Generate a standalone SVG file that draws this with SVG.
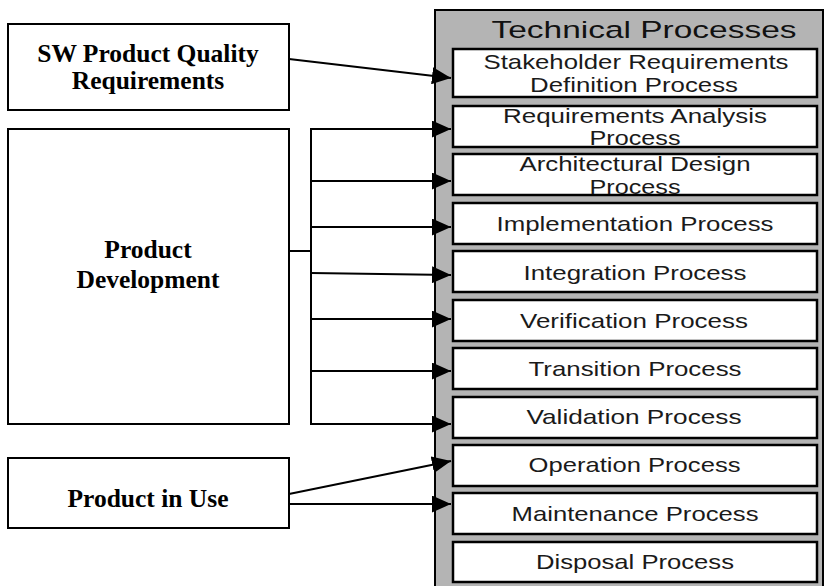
<svg xmlns="http://www.w3.org/2000/svg" width="824" height="586" viewBox="0 0 824 586">
<style>
.lbox{fill:#fff;stroke:#000;stroke-width:2}
.pbox{fill:#fff;stroke:#000;stroke-width:2.5}
.ltxt{font-family:"Liberation Serif","Times New Roman",serif;font-weight:bold;font-size:25.5px;fill:#000;text-anchor:middle}
.ptxt{font-family:"Liberation Sans",Arial,sans-serif;font-size:21px;fill:#1a1a1a;text-anchor:middle}
.ttxt{font-family:"Liberation Sans",Arial,sans-serif;font-size:24.5px;fill:#111;text-anchor:middle}
.conn{fill:none;stroke:#000;stroke-width:2}
</style>
<defs>
<marker id="arr" markerUnits="userSpaceOnUse" markerWidth="19" markerHeight="17" refX="19" refY="8.5" orient="auto">
<path d="M0,0 L19,8.5 L0,17 z" fill="#000"/>
</marker>
</defs>
<rect width="824" height="586" fill="#fff"/>
<g id="technical-processes">
<rect x="435" y="10" width="388" height="590" fill="#b4b4b4" stroke="#000" stroke-width="2"/>
<text class="ttxt" x="644" y="37.5" textLength="305" lengthAdjust="spacingAndGlyphs">Technical Processes</text>
</g>
<g id="stakeholder">
<rect class="pbox" x="453" y="49" width="364" height="48"/>
<text class="ptxt" x="636" y="68.5" textLength="305" lengthAdjust="spacingAndGlyphs">Stakeholder Requirements</text>
<text class="ptxt" x="634" y="91.5" textLength="208" lengthAdjust="spacingAndGlyphs">Definition Process</text>
</g>
<g id="req-analysis">
<rect class="pbox" x="453" y="106" width="364" height="41"/>
<text class="ptxt" x="635" y="123" textLength="264" lengthAdjust="spacingAndGlyphs">Requirements Analysis</text>
<text class="ptxt" x="635" y="144.5" textLength="91" lengthAdjust="spacingAndGlyphs">Process</text>
</g>
<g id="arch-design">
<rect class="pbox" x="453" y="154" width="364" height="41"/>
<text class="ptxt" x="635" y="170.5" textLength="231" lengthAdjust="spacingAndGlyphs">Architectural Design</text>
<text class="ptxt" x="635" y="193.5" textLength="91" lengthAdjust="spacingAndGlyphs">Process</text>
</g>
<g id="implementation">
<rect class="pbox" x="453" y="203" width="364" height="41"/>
<text class="ptxt" x="635" y="231" textLength="277" lengthAdjust="spacingAndGlyphs">Implementation Process</text>
</g>
<g id="integration">
<rect class="pbox" x="453" y="251" width="364" height="41"/>
<text class="ptxt" x="635" y="280" textLength="223" lengthAdjust="spacingAndGlyphs">Integration Process</text>
</g>
<g id="verification">
<rect class="pbox" x="453" y="300" width="364" height="41"/>
<text class="ptxt" x="634" y="327.5" textLength="228" lengthAdjust="spacingAndGlyphs">Verification Process</text>
</g>
<g id="transition">
<rect class="pbox" x="453" y="348" width="364" height="41"/>
<text class="ptxt" x="635" y="376" textLength="213" lengthAdjust="spacingAndGlyphs">Transition Process</text>
</g>
<g id="validation">
<rect class="pbox" x="453" y="397" width="364" height="41"/>
<text class="ptxt" x="634" y="423.5" textLength="215" lengthAdjust="spacingAndGlyphs">Validation Process</text>
</g>
<g id="operation">
<rect class="pbox" x="453" y="445" width="364" height="41"/>
<text class="ptxt" x="634.5" y="472" textLength="212" lengthAdjust="spacingAndGlyphs">Operation Process</text>
</g>
<g id="maintenance">
<rect class="pbox" x="453" y="493" width="364" height="41"/>
<text class="ptxt" x="635" y="520.5" textLength="247" lengthAdjust="spacingAndGlyphs">Maintenance Process</text>
</g>
<g id="disposal">
<rect class="pbox" x="453" y="542" width="364" height="40"/>
<text class="ptxt" x="635" y="568.5" textLength="198" lengthAdjust="spacingAndGlyphs">Disposal Process</text>
</g>
<g id="sw-quality">
<rect class="lbox" x="8" y="24" width="281" height="86"/>
<text class="ltxt" x="148" y="62">SW Product Quality</text>
<text class="ltxt" x="148" y="89">Requirements</text>
</g>
<g id="product-development">
<rect class="lbox" x="8" y="129" width="281" height="295"/>
<text class="ltxt" x="148" y="258">Product</text>
<text class="ltxt" x="148" y="288">Development</text>
</g>
<g id="product-in-use">
<rect class="lbox" x="8" y="458" width="281" height="70"/>
<text class="ltxt" x="148" y="507">Product in Use</text>
</g>
<g id="connectors">
<path class="conn" d="M289,59 L451,78" marker-end="url(#arr)"/>
<path class="conn" d="M289,251 H311 M311,129 V424"/>
<path class="conn" d="M310,129 H451" marker-end="url(#arr)"/>
<path class="conn" d="M311,181 H451" marker-end="url(#arr)"/>
<path class="conn" d="M311,227 H451" marker-end="url(#arr)"/>
<path class="conn" d="M311,273 L451,275" marker-end="url(#arr)"/>
<path class="conn" d="M311,319 H451" marker-end="url(#arr)"/>
<path class="conn" d="M311,371 H451" marker-end="url(#arr)"/>
<path class="conn" d="M310,424 H451" marker-end="url(#arr)"/>
<path class="conn" d="M289,494 L451,461" marker-end="url(#arr)"/>
<path class="conn" d="M289,504 H451" marker-end="url(#arr)"/>
</g>
</svg>
